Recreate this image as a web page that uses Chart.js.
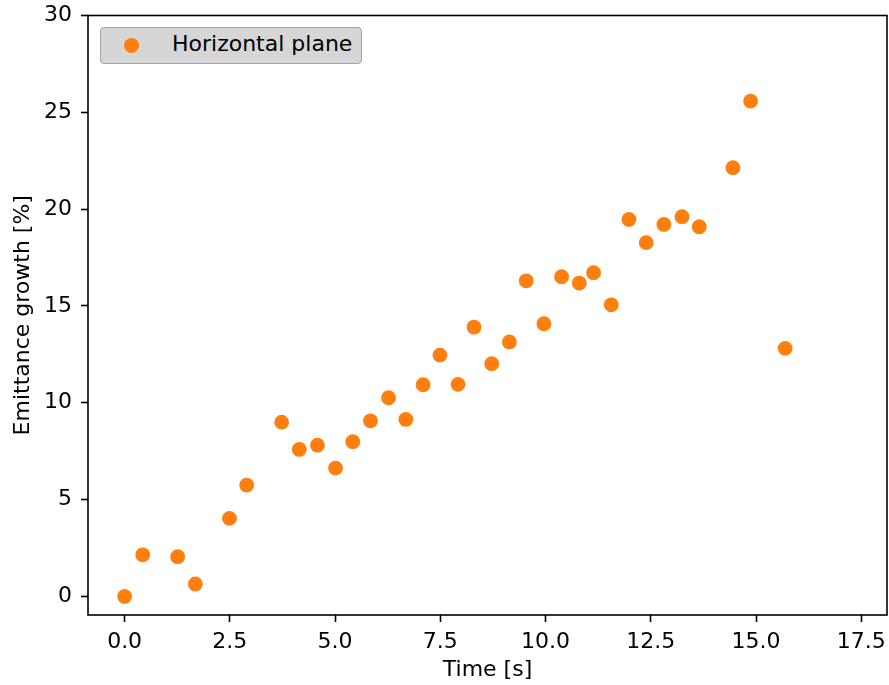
<!DOCTYPE html>
<html lang="en">
<head>
<meta charset="UTF-8" />
<title>Emittance growth</title>
<style>
  body { margin: 0; background: #fff; font-family: 'DejaVu Sans', sans-serif; }
  .wrap { position: relative; width: 889px; height: 685px; }
  .legend {
    position: absolute; left: 100px; top: 27px; width: 260px; height: 35px;
    background: #d6d6d6; border: 1.7px solid #a3a3a3; border-radius: 4px;
    font-size: 22px; color: #000;
  }
  .legend .dot {
    position: absolute; left: 23px; top: 10px; width: 15px; height: 15px;
    border-radius: 50%; background: #ff7f0e;
  }
  .legend .txt { position: absolute; left: 71px; top: 3px; white-space: nowrap; }
</style>
</head>
<body>
<div class="wrap">
  <canvas id="chart" width="889" height="685"></canvas>
  <div class="legend"><span class="dot"></span><span class="txt">Horizontal plane</span></div>
</div>

<script src="https://cdn.jsdelivr.net/npm/chart.js"></script>
<script>
  // values
  const timeS = [0.0, 0.43, 1.26, 1.68, 2.49, 2.90, 3.73, 4.15, 4.58, 5.01, 5.42, 5.84,
                 6.27, 6.68, 7.09, 7.49, 7.92, 8.30, 8.72, 9.14, 9.54, 9.96, 10.38, 10.80,
                 11.14, 11.56, 11.98, 12.39, 12.81, 13.24, 13.65, 14.45, 14.87, 15.69];
  const growthPct = [0.0, 2.15, 2.05, 0.64, 4.03, 5.75, 9.0, 7.59, 7.81, 6.63, 7.99, 9.07,
                     10.26, 9.14, 10.93, 12.46, 10.95, 13.91, 12.02, 13.14, 16.30, 14.08, 16.51, 16.18,
                     16.72, 15.06, 19.47, 18.27, 19.21, 19.61, 19.09, 22.14, 25.58, 12.81];
  const xTicks = [0, 2.5, 5, 7.5, 10, 12.5, 15, 17.5];
  const xTickLabels = ['0.0', '2.5', '5.0', '7.5', '10.0', '12.5', '15.0', '17.5'];
  const yTicks = [0, 5, 10, 15, 20, 25, 30];
  const yTickLabels = ['0', '5', '10', '15', '20', '25', '30'];

  const points = timeS.map((t, i) => ({ x: t, y: growthPct[i] }));
  const FONT = { family: "'DejaVu Sans', sans-serif", size: 22 };

  // matplotlib-like box around the plot area
  const frame = {
    id: 'frame',
    afterDraw(chart) {
      const a = chart.chartArea, c = chart.ctx;
      c.save();
      c.strokeStyle = '#000';
      c.lineWidth = 1.6;
      c.strokeRect(a.left, a.top, a.right - a.left, a.bottom - a.top);
      c.restore();
    }
  };

  new Chart(document.getElementById('chart').getContext('2d'), {
    type: 'scatter',
    data: {
      datasets: [{
        label: 'Horizontal plane',
        data: points,
        backgroundColor: '#ff7f0e',
        borderWidth: 0,
        pointRadius: 7.4,
        pointHoverRadius: 7.4
      }]
    },
    options: {
      responsive: false,
      animation: false,
      devicePixelRatio: 1,
      layout: { autoPadding: false, padding: { left: 0, right: 2, top: 15.5, bottom: 0 } },
      plugins: { legend: { display: false }, tooltip: { enabled: false } },
      scales: {
        x: {
          type: 'linear', min: -0.87, max: 18.11,
          afterBuildTicks: s => { s.ticks = xTicks.map(v => ({ value: v })); },
          afterFit: s => { s.height = 70; s.paddingLeft = 0; s.paddingRight = 0; },
          grid: { drawOnChartArea: false, drawTicks: true, tickLength: 7, tickColor: '#000', tickWidth: 1.6 },
          border: { display: false },
          ticks: { color: '#000', font: FONT, padding: 7, maxRotation: 0,
                   callback: (v, i) => xTickLabels[i] },
          title: { display: true, text: 'Time [s]', color: '#000', font: FONT, padding: { top: 0, bottom: 2 } }
        },
        y: {
          type: 'linear', min: -0.96, max: 30,
          afterBuildTicks: s => { s.ticks = yTicks.map(v => ({ value: v })); },
          afterFit: s => { s.width = 88; s.paddingTop = 0; s.paddingBottom = 0; },
          grid: { drawOnChartArea: false, drawTicks: true, tickLength: 7, tickColor: '#000', tickWidth: 1.6 },
          border: { display: false },
          ticks: { color: '#000', font: FONT, padding: 9,
                   callback: (v, i) => yTickLabels[i] },
          title: { display: true, text: 'Emittance growth [%]', color: '#000', font: FONT, padding: { top: 10, bottom: 0 } }
        }
      }
    },
    plugins: [frame]
  });
</script>
</body>
</html>
